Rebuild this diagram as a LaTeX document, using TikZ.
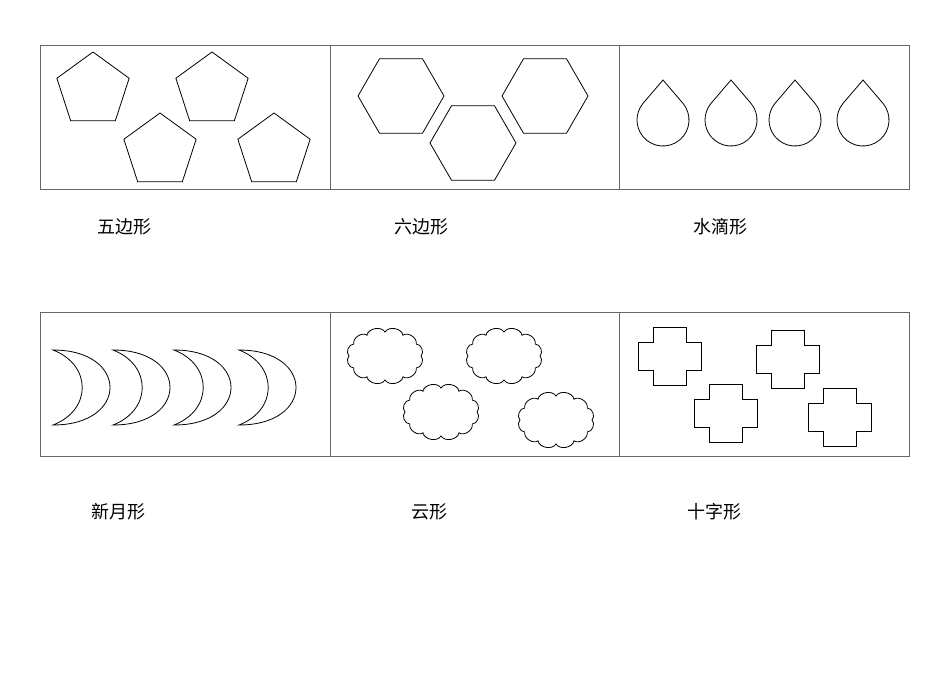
\documentclass[tikz,border=0pt]{standalone}
\usepackage{fontspec}
\newfontfamily\cjk{Noto Sans CJK SC}
\begin{document}
\begin{tikzpicture}[x=1pt,y=1pt,
  frame/.style={draw=black!60,line width=0.7pt},
  shp/.style={draw=black,line width=0.8pt},
  lbl/.style={font=\cjk\fontsize{18}{20}\selectfont,inner sep=0pt}]
\useasboundingbox (0,0) rectangle (950,-672);
% frames
\draw[frame] (40,-45) rectangle (909,-189) (330,-45)--(330,-189) (619,-45)--(619,-189);
\draw[frame] (40,-312) rectangle (909,-456) (330,-312)--(330,-456) (619,-312)--(619,-456);
% pentagons
\foreach \cx/\cy in {93/90,212/90,160/151,274/151}
  \draw[shp,shift={(\cx,-\cy)}] (90:38)--(162:38)--(234:38)--(306:38)--(18:38)--cycle;
% hexagons
\foreach \cx/\cy in {401/96,473/143,545/96}
  \draw[shp,shift={(\cx,-\cy)}] (0:43)--(60:43)--(120:43)--(180:43)--(240:43)--(300:43)--cycle;
% drops
\foreach \cx in {663,731,795,863}
  \draw[shp,shift={(\cx,-120)}] (0,40)--(40.5:26) arc[start angle=40.5,end angle=-220.5,radius=26]--cycle;
% crescents
\foreach \x in {53,113,174,239}
  \draw[shp] (\x,-350) .. controls (\x+76,-350) and (\x+76,-425) .. (\x,-425)
     .. controls (\x+39,-410) and (\x+39,-365) .. (\x,-350) -- cycle;
% clouds
\foreach \cx/\cy in {385/356,504/356,441/412,556/420}{
  \begin{scope}[shift={(\cx,-\cy)}]
  \draw[shp] (36,0) \foreach \a in {30,60,...,360}{ to[bend right=70] ({36*cos(\a)},{24*sin(\a)}) } -- cycle;
  \end{scope}}
% crosses
\foreach \x/\y in {638/327,756/330,694/384,808/388}
  \draw[shp,shift={(\x,-\y)}] (15,0)--(48,0)--(48,-15)--(63,-15)--(63,-43)--(48,-43)--(48,-58)--(15,-58)--(15,-43)--(0,-43)--(0,-15)--(15,-15)--cycle;
% labels
\node[lbl] (l1) at (124,-227) {五边形};
\node[lbl] (l2) at (421,-227) {六边形};
\node[lbl] (l3) at (720,-227) {水滴形};
\node[lbl] (l4) at (118,-512) {新月形};
\node[lbl] (l5) at (429,-512) {云形};
\node[lbl] (l6) at (714,-512) {十字形};
\end{tikzpicture}
\end{document}
